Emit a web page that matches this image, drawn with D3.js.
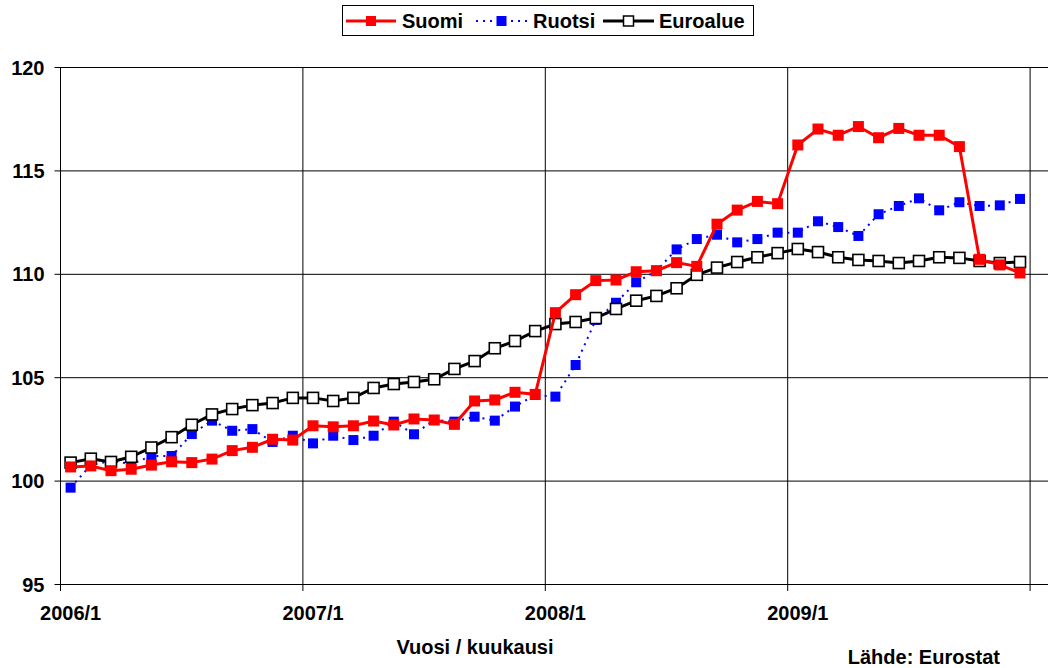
<!DOCTYPE html>
<html>
<head>
<meta charset="utf-8">
<script src="https://cdn.jsdelivr.net/npm/d3@7"></script>
<style>
  html, body { margin: 0; padding: 0; background: #fff; }
  svg { display: block; }
  text { font-family: "Liberation Sans", Arial, sans-serif; font-weight: bold; fill: #000; }
</style>
</head>
<body>
<svg id="chart" width="1048" height="668"></svg>
<script>
// Kuukaudet 2006/1 ... 2009/12
const years = [2006, 2007, 2008, 2009];
const months = [];
years.forEach(y => { for (let m = 1; m <= 12; m++) months.push(y + "/" + m); });

const yTicks = [95, 100, 105, 110, 115, 120];
const xTickLabels = ["2006/1", "2007/1", "2008/1", "2009/1"];

// Indeksisarjat
const suomi = [
  100.66, 100.71, 100.48, 100.55, 100.75, 100.91, 100.87, 101.04, 101.45, 101.61, 102.0, 101.96,
  102.65, 102.6, 102.65, 102.88, 102.69, 102.98, 102.93, 102.72, 103.85, 103.9, 104.27, 104.17,
  108.12, 108.99, 109.67, 109.7, 110.1, 110.15, 110.54, 110.36, 112.4, 113.08, 113.5, 113.39,
  116.23, 117.0, 116.7, 117.12, 116.58, 117.03, 116.7, 116.7, 116.15, 110.7, 110.43, 110.04
];
const ruotsi = [
  99.66, 100.75, 100.95, 100.8, 101.19, 101.19, 102.25, 102.9, 102.41, 102.49, 101.87, 102.17,
  101.8, 102.17, 101.96, 102.17, 102.85, 102.24, 102.93, 102.85, 103.09, 102.9, 103.58, 104.14,
  104.06, 105.59, 107.77, 108.6, 109.59, 110.15, 111.18, 111.68, 111.89, 111.52, 111.68, 111.99,
  111.99, 112.54, 112.26, 111.83, 112.88, 113.28, 113.65, 113.07, 113.46, 113.28, 113.31, 113.62
];
const euroalue = [
  100.87, 101.06, 100.9, 101.15, 101.6, 102.1, 102.7, 103.2, 103.46, 103.65, 103.75, 104.0,
  104.0, 103.85, 104.0, 104.48, 104.67, 104.77, 104.9, 105.4, 105.78, 106.4, 106.75, 107.23,
  107.57, 107.67, 107.86, 108.3, 108.7, 108.93, 109.3, 109.95, 110.3, 110.57, 110.8, 111.0,
  111.2, 111.05, 110.8, 110.67, 110.62, 110.52, 110.62, 110.8, 110.77, 110.62, 110.52, 110.57
];

const seriesNames = ["Suomi", "Ruotsi", "Euroalue"];

const svg = d3.select("#chart");
const plotLeft = 60.5, plotRight = 1030.1, plotTop = 67, plotBottom = 584;

const x = d3.scaleBand().domain(months).range([plotLeft, plotRight]).paddingInner(0).paddingOuter(0);
const y = d3.scaleLinear().domain([95, 120]).range([plotBottom, plotTop]);

// Vaakasuorat apuviivat ja y-akseli
const yAxis = d3.axisLeft(y).tickValues(yTicks).tickSizeInner(-(1048 - plotLeft)).tickSizeOuter(0).tickPadding(16);
const gy = svg.append("g").attr("transform", `translate(${plotLeft},0)`).call(yAxis);
gy.select(".domain").remove();
gy.selectAll(".tick line").attr("stroke", "#000").attr("stroke-width", 1).attr("x1", -6);
gy.selectAll(".tick text").attr("font-size", 20).attr("dy", "0.35em").attr("x", -16);

// Pystysuorat apuviivat vuosien rajoilla
const yearStarts = months.filter(m => m.endsWith("/1"));
svg.append("g").selectAll("line")
  .data(yearStarts)
  .join("line")
  .attr("x1", d => x(d)).attr("x2", d => x(d))
  .attr("y1", plotTop).attr("y2", plotBottom + 7)
  .attr("stroke", "#000").attr("stroke-width", 1);
svg.append("line")
  .attr("x1", plotRight).attr("x2", plotRight)
  .attr("y1", plotTop).attr("y2", plotBottom + 7)
  .attr("stroke", "#000").attr("stroke-width", 1);

// X-akselin nimiöt
const xAxis = d3.axisBottom(x).tickValues(xTickLabels).tickSize(0).tickPadding(22);
const gx = svg.append("g").attr("transform", `translate(0,${plotBottom})`).call(xAxis);
gx.select(".domain").remove();
gx.selectAll(".tick text").attr("font-size", 20);

const cx = d => x(d) + x.bandwidth() / 2;
const line = vals => d3.line().x((d, i) => cx(months[i])).y(d => y(d))(vals);

// Ruotsi: sininen pisteviiva
svg.append("path").attr("d", line(ruotsi)).attr("fill", "none")
  .attr("stroke", "#0000ff").attr("stroke-width", 2).attr("stroke-dasharray", "2,5");
svg.append("g").selectAll("rect").data(ruotsi).join("rect")
  .attr("x", (d, i) => cx(months[i]) - 5).attr("y", d => y(d) - 5)
  .attr("width", 10).attr("height", 10).attr("fill", "#0000ff");

// Euroalue: musta viiva, valkoiset neliöt
svg.append("path").attr("d", line(euroalue)).attr("fill", "none")
  .attr("stroke", "#000").attr("stroke-width", 3);
svg.append("g").selectAll("rect").data(euroalue).join("rect")
  .attr("x", (d, i) => cx(months[i]) - 5.5).attr("y", d => y(d) - 5.5)
  .attr("width", 11).attr("height", 11).attr("fill", "#fff")
  .attr("stroke", "#000").attr("stroke-width", 1.6);

// Suomi: punainen viiva
svg.append("path").attr("d", line(suomi)).attr("fill", "none")
  .attr("stroke", "#ff0000").attr("stroke-width", 3);
svg.append("g").selectAll("rect").data(suomi).join("rect")
  .attr("x", (d, i) => cx(months[i]) - 5.5).attr("y", d => y(d) - 5.5)
  .attr("width", 11).attr("height", 11).attr("fill", "#ff0000");

// Akselin otsikko ja lähde
svg.append("text").attr("x", 475).attr("y", 654).attr("text-anchor", "middle")
  .attr("font-size", 20).text("Vuosi / kuukausi");
svg.append("text").attr("x", 1000).attr("y", 664).attr("text-anchor", "end")
  .attr("font-size", 20).text("Lähde: Eurostat");

// Selite
const legend = svg.append("g");
legend.append("rect").attr("x", 342.5).attr("y", 5.5).attr("width", 411).attr("height", 30)
  .attr("fill", "#fff").attr("stroke", "#000").attr("stroke-width", 1);
const legendItems = [
  { name: seriesNames[0], x0: 346, x1: 396, tx: 402, color: "#ff0000", dash: null, fill: "#ff0000", stroke: "none" },
  { name: seriesNames[1], x0: 476, x1: 527, tx: 533, color: "#0000ff", dash: "2,5", fill: "#0000ff", stroke: "none" },
  { name: seriesNames[2], x0: 603, x1: 654, tx: 659, color: "#000", dash: null, fill: "#fff", stroke: "#000" }
];
legendItems.forEach(it => {
  const ly = 21;
  legend.append("line").attr("x1", it.x0).attr("x2", it.x1).attr("y1", ly).attr("y2", ly)
    .attr("stroke", it.color).attr("stroke-width", it.dash ? 2 : 3)
    .attr("stroke-dasharray", it.dash);
  const mx = (it.x0 + it.x1) / 2;
  legend.append("rect").attr("x", mx - 5).attr("y", ly - 5).attr("width", 10).attr("height", 10)
    .attr("fill", it.fill).attr("stroke", it.stroke).attr("stroke-width", 1.5);
  legend.append("text").attr("x", it.tx).attr("y", 28).attr("font-size", 20).text(it.name);
});
</script>
</body>
</html>
